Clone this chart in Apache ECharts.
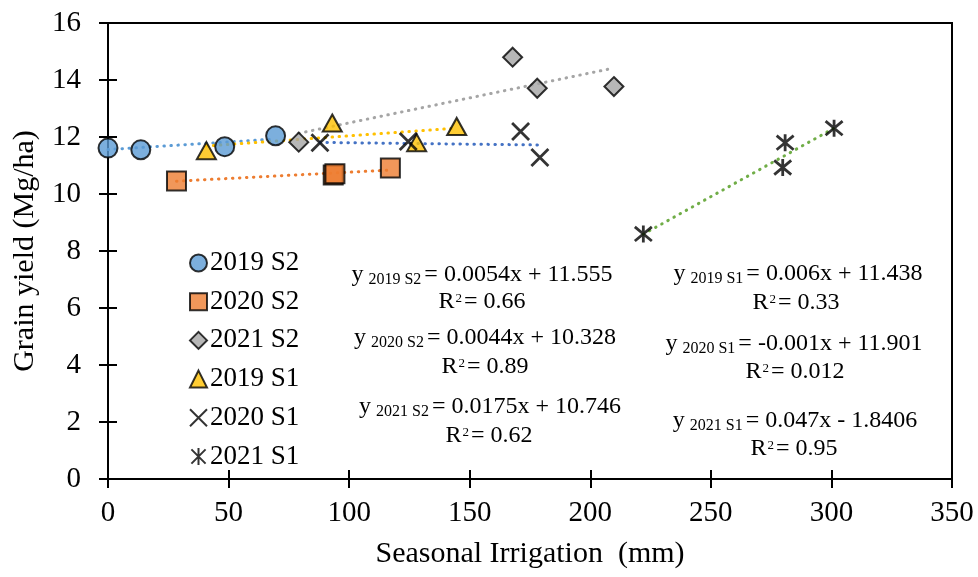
<!DOCTYPE html>
<html>
<head>
<meta charset="utf-8">
<script src="https://cdn.jsdelivr.net/npm/echarts@6/dist/echarts.min.js"></script>
<style>
html,body{margin:0;padding:0;background:#fff;}
#chart{width:978px;height:577px;}
</style>
</head>
<body>
<div id="chart"></div>
<script>
// ---- data ----
const xTicks = [0, 50, 100, 150, 200, 250, 300, 350];
const yTicks = [0, 2, 4, 6, 8, 10, 12, 14, 16];
const seriesNames = ['2019 S2', '2020 S2', '2021 S2', '2019 S1', '2020 S1', '2021 S1'];

const pts2019S2 = [[0, 11.61], [13.6, 11.55], [48.4, 11.66], [69.5, 12.04]];
const pts2020S2 = [[28.4, 10.46], [93.4, 10.67], [94.1, 10.71], [117.1, 10.91]];
const pts2021S2 = [[79.1, 11.82], [167.8, 14.8], [178, 13.71], [209.8, 13.77]];
const pts2019S1 = [[40.8, 11.52], [93, 12.49], [128, 11.8], [144.6, 12.37]];
const pts2020S1 = [[87.9, 11.8], [124.5, 11.84], [171.1, 12.19], [179.1, 11.28]];
const pts2021S1 = [[222, 8.6], [280.8, 11.8], [279.8, 10.93], [301.1, 12.31]];

// trendline end points as drawn in the reference
const trend2019S2 = [[0, 11.56], [69.5, 11.93]];
const trend2020S2 = [[28.4, 10.45], [117.1, 10.84]];
const trend2021S2 = [[79.1, 12.13], [209.8, 14.42]];
const trend2019S1 = [[40.8, 11.68], [144.6, 12.31]];
const trend2020S1 = [[87.9, 11.81], [179.1, 11.72]];
const trend2021S1 = [[222, 8.59], [301.1, 12.31]];

// equation annotations
const eqSubs = ['2019 S2', '2020 S2', '2021 S2', '2019 S1', '2020 S1', '2021 S1'];
const eqRhs = ['= 0.0054x + 11.555', '= 0.0044x + 10.328', '= 0.0175x + 10.746',
               '= 0.006x + 11.438', '= -0.001x + 11.901', '= 0.047x - 1.8406'];
const eqR2 = ['0.66', '0.89', '0.62', '0.33', '0.012', '0.95'];

// ---- styling ----
const FONT = '"Liberation Serif", "Times New Roman", serif';
const colors = ['#5b9bd5', '#ed7d31', '#a5a5a5', '#ffc000', '#4472c4', '#70ad47'];
const X_PATH = 'path://M0,0L10,10M10,0L0,10';
const AST_PATH = 'path://M0,0L10,10M10,0L0,10M5,-1L5,11';

const chart = echarts.init(document.getElementById('chart'));

function markerSeries(name, data, symbol, size, color, lineOnly) {
  return {
    name: name, type: 'scatter', data: data, symbol: symbol, symbolSize: size, z: 5,
    itemStyle: lineOnly
      ? { color: 'rgba(0,0,0,0)', borderColor: '#000', borderWidth: 2.8 }
      : { color: color, borderColor: '#000', borderWidth: 2 }
  };
}
function trendSeries(data, color) {
  return {
    type: 'line', data: data, symbol: 'none', z: 2, silent: true,
    lineStyle: { color: color, width: 3, type: [0.5, 6.5], cap: 'round' }
  };
}

// equations
const eqPos = [[482, 275], [485, 338], [490, 407], [798, 274], [794, 344], [795, 421]];
const r2Pos = [[482, 302], [485, 367], [489, 436], [796, 303], [795, 372], [794, 449]];
const graphics = [];
const richEq = {
  m: { fontFamily: FONT, fontSize: 24, lineHeight: 24, verticalAlign: 'top', color: '#000' },
  s: { fontFamily: FONT, fontSize: 16, lineHeight: 16, verticalAlign: 'top', padding: [9, 3, 0, 5], color: '#000' },
  p: { fontFamily: FONT, fontSize: 13, lineHeight: 13, verticalAlign: 'top', padding: [2, 2, 0, 1], color: '#000' }
};
for (let i = 0; i < eqSubs.length; i++) {
  graphics.push({
    type: 'text', x: eqPos[i][0], y: eqPos[i][1], z: 10,
    style: { text: '{m|y}{s|' + eqSubs[i] + '}{m|' + eqRhs[i] + '}', rich: richEq,
             align: 'center', verticalAlign: 'middle' }
  });
  graphics.push({
    type: 'text', x: r2Pos[i][0], y: r2Pos[i][1], z: 10,
    style: { text: '{m|R}{p|2}{m|= ' + eqR2[i] + '}', rich: richEq,
             align: 'center', verticalAlign: 'middle' }
  });
}

const option = {
  backgroundColor: '#fff',
  animation: false,
  grid: { left: 108, right: 26, top: 23, bottom: 98, show: true, borderColor: '#000', borderWidth: 2, backgroundColor: 'transparent' },
  legend: {
    data: seriesNames, orient: 'vertical', left: 184, top: 243,
    itemWidth: 17, itemHeight: 17, itemGap: 8.7,
    textStyle: { fontFamily: FONT, fontSize: 27, color: '#000', lineHeight: 30, padding: [0, 0, 0, -2] }
  },
  xAxis: [{
    type: 'value', min: xTicks[0], max: xTicks[xTicks.length - 1], interval: xTicks[1] - xTicks[0],
    name: 'Seasonal Irrigation  (mm)', nameLocation: 'middle', nameGap: 60,
    nameTextStyle: { fontFamily: FONT, fontSize: 30, color: '#000' },
    axisLine: { onZero: false, lineStyle: { color: '#000', width: 2 } },
    axisTick: { show: true, length: 9, lineStyle: { color: '#000', width: 2 } },
    axisLabel: { fontFamily: FONT, fontSize: 29, color: '#000', margin: 20 },
    splitLine: { show: false }
  }, {
    type: 'value', position: 'bottom', min: xTicks[0], max: xTicks[xTicks.length - 1], interval: xTicks[1] - xTicks[0],
    axisLine: { show: false, onZero: false }, axisLabel: { show: false }, splitLine: { show: false },
    axisTick: { show: true, inside: true, length: 9, lineStyle: { color: '#000', width: 2 } }
  }],
  yAxis: [{
    type: 'value', min: yTicks[0], max: yTicks[yTicks.length - 1], interval: yTicks[1] - yTicks[0],
    name: 'Grain yield (Mg/ha)', nameLocation: 'middle', nameGap: 68,
    nameTextStyle: { fontFamily: FONT, fontSize: 30, color: '#000' },
    axisLine: { onZero: false, lineStyle: { color: '#000', width: 2 } },
    axisTick: { show: true, length: 9, lineStyle: { color: '#000', width: 2 } },
    axisLabel: { fontFamily: FONT, fontSize: 29, color: '#000', margin: 27 },
    splitLine: { show: false }
  }, {
    type: 'value', position: 'left', min: yTicks[0], max: yTicks[yTicks.length - 1], interval: yTicks[1] - yTicks[0],
    axisLine: { show: false, onZero: false }, axisLabel: { show: false }, splitLine: { show: false },
    axisTick: { show: true, inside: true, length: 9, lineStyle: { color: '#000', width: 2 } }
  }],
  series: [
    trendSeries(trend2019S2, colors[0]),
    trendSeries(trend2020S2, colors[1]),
    trendSeries(trend2021S2, colors[2]),
    trendSeries(trend2019S1, colors[3]),
    trendSeries(trend2020S1, colors[4]),
    trendSeries(trend2021S1, colors[5]),
    markerSeries(seriesNames[0], pts2019S2, 'circle', 19, colors[0]),
    markerSeries(seriesNames[1], pts2020S2, 'rect', 19, colors[1]),
    markerSeries(seriesNames[2], pts2021S2, 'diamond', 19, colors[2]),
    markerSeries(seriesNames[3], pts2019S1, 'triangle', [19, 17], colors[3]),
    markerSeries(seriesNames[4], pts2020S1, X_PATH, 17, '#000', true),
    markerSeries(seriesNames[5], pts2021S1, AST_PATH, 17, '#000', true)
  ],
  graphic: graphics
};
chart.setOption(option);
</script>
</body>
</html>
